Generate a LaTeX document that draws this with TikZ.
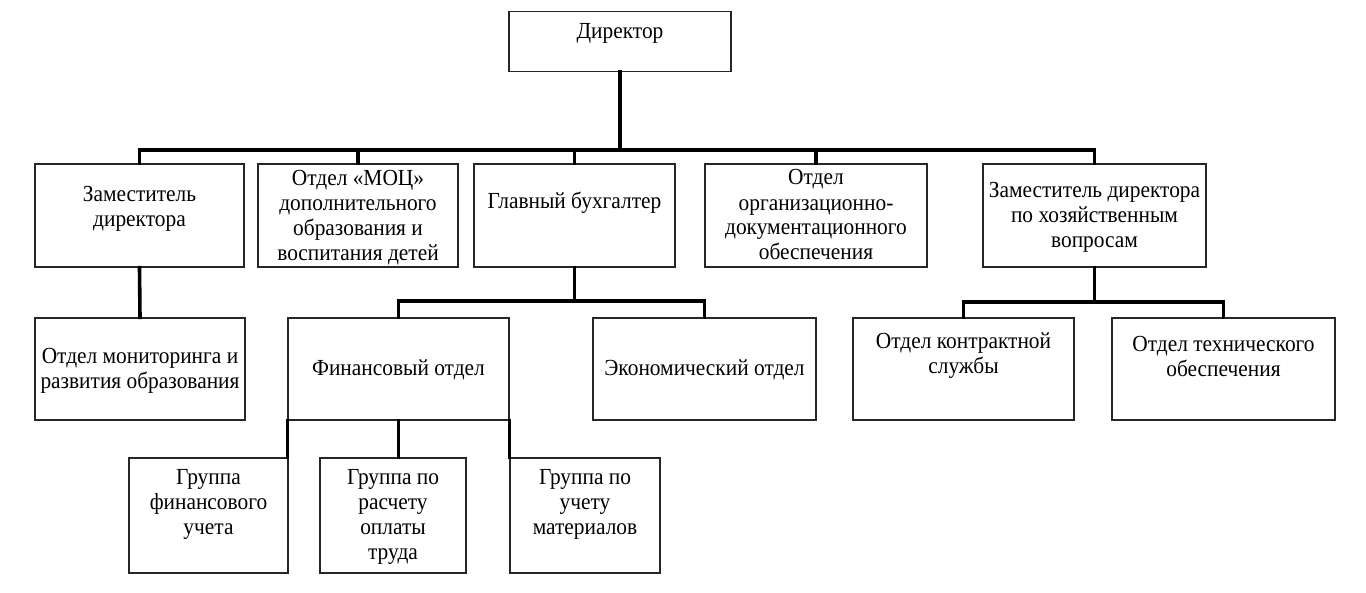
\documentclass[tikz,border=0pt]{standalone}
\usepackage{fontspec}
\setmainfont{Liberation Serif}[FakeStretch=0.93]
\usetikzlibrary{calc}

\tikzset{
  unit/.style={draw=black!85, line width=1.3pt, inner sep=0pt},
  caption/.style={align=center, inner sep=0pt, font=\fontsize{23}{25}\selectfont},
  link/.style={line width=3.6pt, line cap=rect}
}

\begin{document}
\begin{tikzpicture}[x=1pt, y=-1pt]
  \useasboundingbox (0,0) rectangle (1366,593);
  % boxes
  \node[unit, minimum width=222pt, minimum height=60pt] (dir) at (620,41.5) {};
  \node[unit, minimum width=209pt, minimum height=103pt] (zam) at (139.5,215.5) {};
  \node[unit, minimum width=200pt, minimum height=103pt] (moc) at (358,215.5) {};
  \node[unit, minimum width=201pt, minimum height=103pt] (glav) at (574.5,215.5) {};
  \node[unit, minimum width=222pt, minimum height=103pt] (org) at (816,215.5) {};
  \node[unit, minimum width=223pt, minimum height=103pt] (zamhoz) at (1094.5,215.5) {};
  \node[unit, minimum width=210pt, minimum height=102pt] (monit) at (140,369) {};
  \node[unit, minimum width=221pt, minimum height=102pt] (fin) at (398.5,369) {};
  \node[unit, minimum width=223pt, minimum height=102pt] (econ) at (704.5,369) {};
  \node[unit, minimum width=221pt, minimum height=102pt] (kontr) at (963.5,369) {};
  \node[unit, minimum width=223pt, minimum height=102pt] (tekh) at (1223.5,369) {};
  \node[unit, minimum width=159pt, minimum height=115pt] (grFin) at (208.5,515.5) {};
  \node[unit, minimum width=146pt, minimum height=115pt] (grTrud) at (393,515.5) {};
  \node[unit, minimum width=150pt, minimum height=115pt] (grMat) at (585,515.5) {};

  % texts
  \node[caption] (dirT) at (620,33) {Директор};
  \node[caption] (zamT) at (139.5,209) {Заместитель\\директора};
  \node[caption] (mocT) at (358,218) {Отдел «МОЦ»\\дополнительного\\образования и\\воспитания детей};
  \node[caption] (glavT) at (574.5,203) {Главный бухгалтер};
  \node[caption] (orgT) at (816,215) {Отдел\\организационно-\\документационного\\обеспечения};
  \node[caption] (zamhozT) at (1094.5,217) {Заместитель директора\\по хозяйственным\\вопросам};
  \node[caption] (monitT) at (140,370.5) {Отдел мониторинга и\\развития образования};
  \node[caption] (finT) at (398.5,370) {Финансовый отдел};
  \node[caption] (econT) at (704.5,370) {Экономический отдел};
  \node[caption] (kontrT) at (963.5,356) {Отдел контрактной\\службы};
  \node[caption] (tekhT) at (1223.5,356) {Отдел технического\\обеспечения};
  \node[caption] (grFinT) at (208.5,504) {Группа\\финансового\\учета};
  \node[caption] (grTrudT) at (393,517) {Группа по\\расчету\\оплаты\\труда};
  \node[caption] (grMatT) at (585,504) {Группа по\\учету\\материалов};

  % connectors
  \coordinate (bus) at (620,150);
  \coordinate (bus2) at (574.5,301);
  \coordinate (bus3) at (1094.5,302);
  \draw[link] (dir.south) -- (bus);
  \draw[link] (bus) -| (zam.north);
  \draw[link] (bus) -| (moc.north);
  \draw[link] (bus) -| (glav.north);
  \draw[link] (bus) -| (org.north);
  \draw[link] (bus) -| (zamhoz.north);
  \draw[link] (zam.south) -- (monit.north);
  \draw[link] (glav.south) -- (bus2);
  \draw[link] (bus2) -| (fin.north);
  \draw[link] (bus2) -| (econ.north);
  \draw[link] (zamhoz.south) -- (bus3);
  \draw[link] (bus3) -| (kontr.north);
  \draw[link] (bus3) -| (tekh.north);
  \draw[link] (fin.south west) -- (fin.south west |- grFin.north);
  \draw[link] (fin.south) -- (fin.south |- grTrud.north);
  \draw[link] (fin.south east) -- (fin.south east |- grMat.north);
\end{tikzpicture}
\end{document}
